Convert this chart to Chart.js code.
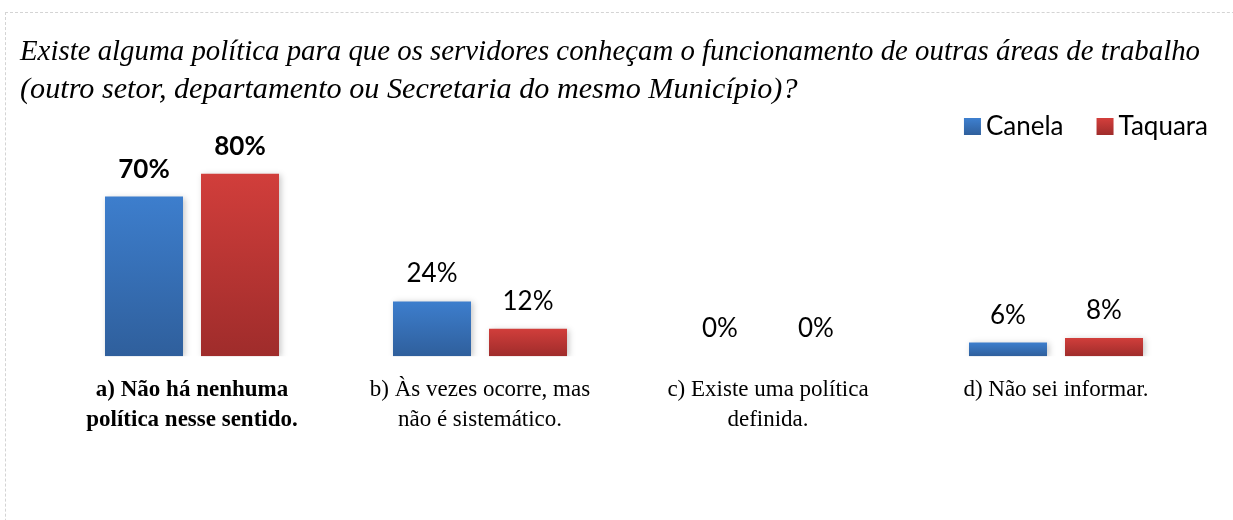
<!DOCTYPE html>
<html>
<head>
<meta charset="utf-8">
<script src="https://cdn.jsdelivr.net/npm/chart.js@4.4.1/dist/chart.umd.min.js"></script>
<style>
html,body{margin:0;padding:0;background:#fff;overflow:hidden;}
#wrap{position:relative;width:1233px;height:520px;}
#frame{position:absolute;left:5px;top:12px;width:1300px;height:600px;border:1px dashed #d4d4d4;box-sizing:border-box;pointer-events:none;}
canvas{position:absolute;left:0;top:0;}
</style>
</head>
<body>
<div id="wrap">
<div id="frame"></div>
<canvas id="c" width="1233" height="520"></canvas>
</div>
<script>
const titleLines = [
  "Existe alguma política para que os servidores conheçam o funcionamento de outras áreas de trabalho",
  "(outro setor, departamento ou Secretaria do mesmo Município)?"
];
const categories = [
  ["a) Não há nenhuma", "política nesse sentido."],
  ["b) Às vezes ocorre, mas", "não é sistemático."],
  ["c) Existe uma política", "definida."],
  ["d) Não sei informar."]
];
const seriesNames = ["Canela", "Taquara"];
const canelaValues = [70, 24, 0, 6];
const taquaraValues = [80, 12, 0, 8];

const blueTop = "#3d7ecd", blueBot = "#2f5f9c";
const redTop = "#d13e3b", redBot = "#9f2c2b";

function grad(top, bottom) {
  return (ctx) => {
    const chart = ctx.chart;
    if (!chart.chartArea || ctx.type !== 'data') return top;
    const y = chart.scales.y;
    const yT = y.getPixelForValue(ctx.raw), yB = y.getPixelForValue(0);
    if (!isFinite(yT) || yB - yT < 1) return top;
    const g = chart.ctx.createLinearGradient(0, yT, 0, yB);
    g.addColorStop(0, top);
    g.addColorStop(1, bottom);
    return g;
  };
}

const labelFont = "Lato, 'Open Sans', sans-serif";

const shadowPlugin = {
  id: 'shadow',
  beforeDatasetsDraw(chart) {
    const c = chart.ctx;
    c.save();
    c.shadowColor = 'rgba(0,0,0,0.22)';
    c.shadowBlur = 6;
    c.shadowOffsetX = 2;
    c.shadowOffsetY = 1;
  },
  afterDatasetsDraw(chart) {
    chart.ctx.restore();
  }
};

const valueLabels = {
  id: 'valueLabels',
  afterDraw(chart) {
    const c = chart.ctx;
    c.save();
    c.fillStyle = '#000';
    c.textAlign = 'center';
    c.textBaseline = 'alphabetic';
    chart.data.datasets.forEach((ds, di) => {
      const meta = chart.getDatasetMeta(di);
      meta.data.forEach((el, i) => {
        c.font = (i === 0 ? 'bold ' : '') + '26px ' + labelFont;
        c.fillText(ds.data[i] + '%', el.x, el.y - 19);
      });
    });
    c.restore();
  }
};

const customLegend = {
  id: 'customLegend',
  afterDraw(chart) {
    const c = chart.ctx;
    c.save();
    c.font = '26px ' + labelFont;
    c.textBaseline = 'alphabetic';
    c.textAlign = 'left';
    const box = 17, gapBox = 5, gapItem = 33, right = 1208, baseY = 135;
    const items = chart.data.datasets.map((ds, i) => ({
      text: ds.label, color: i === 0 ? [blueTop, blueBot] : [redTop, redBot],
      w: c.measureText(ds.label).width
    }));
    let total = 0;
    items.forEach((it, i) => { total += box + gapBox + it.w + (i < items.length - 1 ? gapItem : 0); });
    let x = right - total;
    items.forEach((it) => {
      const g = c.createLinearGradient(0, 119, 0, 135);
      g.addColorStop(0, it.color[0]); g.addColorStop(1, it.color[1]);
      c.fillStyle = g;
      c.fillRect(x, 118, box, box);
      c.fillStyle = '#000';
      c.fillText(it.text, x + box + gapBox, baseY);
      x += box + gapBox + it.w + gapItem;
    });
    c.restore();
  }
};

new Chart(document.getElementById('c'), {
  type: 'bar',
  data: {
    labels: categories,
    datasets: [
      { label: seriesNames[0], data: canelaValues, backgroundColor: grad(blueTop, blueBot), borderWidth: 0 },
      { label: seriesNames[1], data: taquaraValues, backgroundColor: grad(redTop, redBot), borderWidth: 0 }
    ]
  },
  options: {
    responsive: false,
    devicePixelRatio: 1,
    animation: false,
    layout: { padding: { left: 20, right: 33, top: 33, bottom: 74 } },
    datasets: { bar: { categoryPercentage: 0.6667, barPercentage: 0.8125 } },
    plugins: {
      legend: { display: false },
      tooltip: { enabled: false },
      title: {
        display: true,
        text: titleLines,
        align: 'start',
        color: '#000',
        font: { family: "'Liberation Serif', 'Times New Roman', serif", style: 'italic', size: 30.2, lineHeight: 1.258, weight: 'normal' },
        padding: { top: 0, bottom: 42 }
      }
    },
    scales: {
      x: {
        grid: { display: false },
        border: { display: false },
        ticks: {
          color: '#000',
          padding: 11,
          maxRotation: 0,
          autoSkip: false,
          font: (ctx) => ({
            family: "'Liberation Serif', 'Times New Roman', serif",
            size: 23,
            lineHeight: 1.3,
            weight: ctx.index === 0 ? 'bold' : 'normal'
          })
        }
      },
      y: {
        display: true,
        min: 0,
        max: 90,
        ticks: { display: false },
        grid: { display: false },
        border: { display: false },
        afterFit(s) { s.width = 28; }
      }
    }
  },
  plugins: [shadowPlugin, valueLabels, customLegend]
});
</script>
</body>
</html>
